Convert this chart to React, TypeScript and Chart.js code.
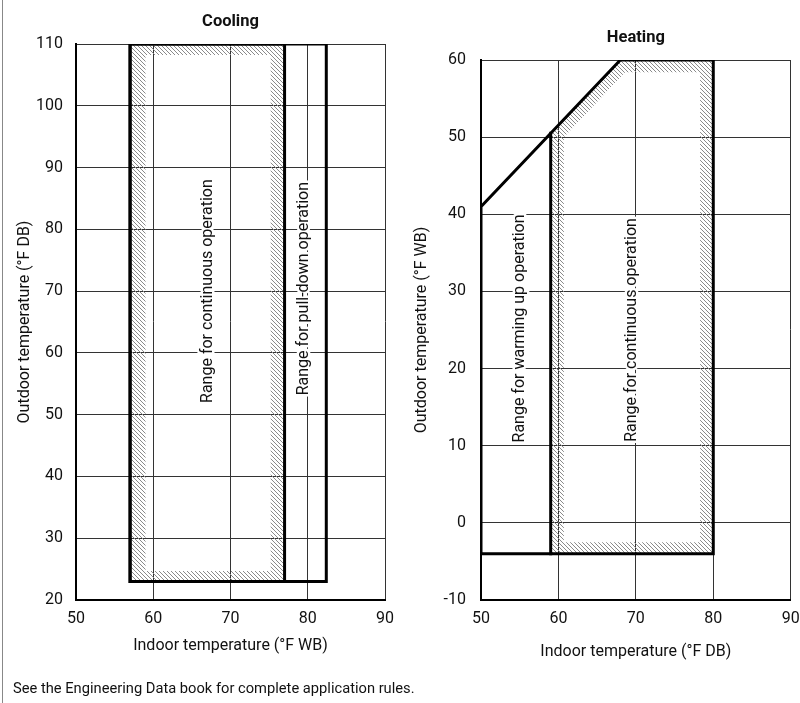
import React, { useEffect, useRef } from 'react';
import { Chart, registerables } from 'chart.js';

Chart.register(...registerables);

const FONT = "Roboto, 'Liberation Sans', sans-serif";

// ---------- Data ----------
const xTicks = [50, 60, 70, 80, 90];
const coolingYTicks = [20, 30, 40, 50, 60, 70, 80, 90, 100, 110];
const heatingYTicks = [-10, 0, 10, 20, 30, 40, 50, 60];

// Cooling (indoor °F WB vs outdoor °F DB)
const coolingContinuousX = [57, 57, 77, 77, 57];
const coolingContinuousY = [23, 110, 110, 23, 23];
const coolingPullDownX = [57, 57, 82.4, 82.4, 57];
const coolingPullDownY = [23, 110, 110, 23, 23];
const coolingHatchX = [57, 57, 77, 77, 57, 59, 75.2, 75.2, 59, 59, 57];
const coolingHatchY = [23, 110, 110, 23, 23, 24.7, 24.7, 108.2, 108.2, 24.7, 23];
const coolingLabels = ['Range for continuous operation', 'Range for pull-down operation'];
const coolingLabelX = [67.1, 79.5];
const coolingLabelY = [70, 70.4];

// Heating (indoor °F DB vs outdoor °F WB)
const heatingBoundaryX = [50, 68, 80, 80, 50, 50];
const heatingBoundaryY = [41, 60, 60, -4, -4, 41];
const heatingWarmupX = [59, 59];
const heatingWarmupY = [-4, 50.5];
const heatingHatchX = [59, 59, 68, 80, 80, 59, 60.7, 78.3, 78.3, 68.6, 60.7, 60.7, 59];
const heatingHatchY = [-4, 50.5, 60, 60, -4, -4, -2.5, -2.5, 58.4, 58.4, 50.0, -2.5, -4];
const heatingLabels = ['Range for warming up operation', 'Range for continuous operation'];
const heatingLabelX = [55.0, 69.5];
const heatingLabelY = [25.2, 25];

const footerText = 'See the Engineering Data book for complete application rules.';

// ---------- Helpers ----------
const pts = (xs: number[], ys: number[]) => xs.map((x, i) => ({ x, y: ys[i] }));

function makeHatch(): any {
  const c = document.createElement('canvas');
  c.width = 4;
  c.height = 4;
  const g = c.getContext('2d')!;
  g.fillStyle = '#8a8a8a';
  for (let i = 0; i < 4; i++) g.fillRect(i, i, 1, 1);
  return g.createPattern(c, 'repeat');
}

interface PanelProps {
  left: number;
  title: string;
  xTitle: string;
  yTitle: string;
  yTicks: number[];
  outlines: { x: number[]; y: number[] }[];
  hatches: { x: number[]; y: number[] }[];
  labels: string[];
  labelX: number[];
  labelY: number[];
  yAxisWidth: number;
  padRight: number;
  titlePadTop: number;
  yTitlePad: number;
  yTickPad: number;
  xTitlePadBottom: number;
}

function Panel(p: PanelProps) {
  const ref = useRef<HTMLCanvasElement>(null);
  useEffect(() => {
    const canvas = ref.current!;
    const hatch = makeHatch();
    const labelPlugin = {
      id: 'rangeLabels',
      afterDatasetsDraw(chart: any) {
        const { ctx } = chart;
        const xs = chart.scales.x;
        const ys = chart.scales.y;
        p.labels.forEach((t, i) => {
          const px = xs.getPixelForValue(p.labelX[i]);
          const py = ys.getPixelForValue(p.labelY[i]);
          ctx.save();
          ctx.translate(px, py);
          ctx.rotate(-Math.PI / 2);
          ctx.font = `16px ${FONT}`;
          ctx.textAlign = 'center';
          ctx.textBaseline = 'middle';
          ctx.lineJoin = 'round';
          ctx.strokeStyle = '#ffffff';
          ctx.lineWidth = 5;
          ctx.strokeText(t, 0, 0);
          ctx.fillStyle = '#111';
          ctx.fillText(t, 0, 0);
          ctx.restore();
        });
      },
    };
    const datasets: any[] = [];
    p.outlines.forEach((o) => {
      datasets.push({
        data: pts(o.x, o.y),
        showLine: true,
        borderColor: '#000',
        borderWidth: 3,
        borderJoinStyle: 'miter',
        borderCapStyle: 'square',
        pointRadius: 0,
        fill: false,
        tension: 0,
      });
    });
    p.hatches.forEach((h) => {
      datasets.push({
        data: pts(h.x, h.y),
        showLine: true,
        borderColor: 'rgba(0,0,0,0)',
        borderWidth: 0,
        backgroundColor: hatch,
        pointRadius: 0,
        fill: 'shape',
        tension: 0,
      });
    });
    const tickFont = { family: FONT, size: 16 };
    const chart = new Chart(canvas, {
      type: 'scatter',
      data: { datasets },
      plugins: [labelPlugin],
      options: {
        animation: false,
        responsive: false,
        events: [],
        layout: { padding: { left: 0, right: p.padRight, top: 0, bottom: 0 } },
        plugins: {
          legend: { display: false },
          tooltip: { enabled: false },
          title: {
            display: true,
            text: p.title,
            fullSize: false,
            color: '#111',
            font: { family: FONT, size: 16.5, weight: 'bold' },
            padding: { top: p.titlePadTop, bottom: 44 - 19.8 - 12.4 },
          },
        },
        scales: {
          x: {
            type: 'linear',
            position: 'bottom',
            min: 50,
            max: 90,
            afterBuildTicks: (s: any) => {
              s.ticks = xTicks.map((v) => ({ value: v }));
            },
            afterFit: (s: any) => {
              s.height = 103;
              s.paddingLeft = 0;
              s.paddingRight = 0;
              s.paddingTop = 0;
              s.paddingBottom = 0;
            },
            grid: { color: '#333', lineWidth: 1, drawTicks: false },
            border: { display: true, color: '#000', width: 2 },
            ticks: { color: '#111', font: tickFont, padding: 9, maxRotation: 0, autoSkip: false },
            title: {
              display: true,
              text: p.xTitle,
              color: '#111',
              font: tickFont,
              padding: { top: 0, bottom: p.xTitlePadBottom },
            },
          },
          y: {
            type: 'linear',
            position: 'left',
            min: p.yTicks[0],
            max: p.yTicks[p.yTicks.length - 1],
            afterBuildTicks: (s: any) => {
              s.ticks = p.yTicks.map((v) => ({ value: v }));
            },
            afterFit: (s: any) => {
              s.width = p.yAxisWidth;
              s.paddingLeft = 0;
              s.paddingRight = 0;
              s.paddingTop = 0;
              s.paddingBottom = 0;
            },
            grid: { color: '#333', lineWidth: 1, drawTicks: false },
            border: { display: true, color: '#000', width: 2 },
            ticks: { color: '#111', font: tickFont, padding: p.yTickPad, autoSkip: false },
            title: {
              display: true,
              text: p.yTitle,
              color: '#111',
              font: tickFont,
              padding: { top: p.yTitlePad, bottom: 0 },
            },
          },
        },
      } as any,
    });
    return () => chart.destroy();
  }, []);
  return (
    <canvas
      ref={ref}
      width={400}
      height={703}
      style={{ position: 'absolute', left: p.left, top: 0, width: 400, height: 703 }}
    />
  );
}

export default function App() {
  return (
    <div
      style={{
        position: 'absolute',
        left: 0,
        top: 0,
        width: 800,
        height: 703,
        background: '#fff',
        overflow: 'hidden',
      }}
    >
      <Panel
        left={0}
        title="Cooling"
        xTitle="Indoor temperature (°F WB)"
        yTitle="Outdoor temperature (°F DB)"
        yTicks={coolingYTicks}
        outlines={[
          { x: coolingContinuousX, y: coolingContinuousY },
          { x: coolingPullDownX, y: coolingPullDownY },
        ]}
        hatches={[{ x: coolingHatchX, y: coolingHatchY }]}
        labels={coolingLabels}
        labelX={coolingLabelX}
        labelY={coolingLabelY}
        yAxisWidth={76}
        padRight={15}
        titlePadTop={12.4}
        yTitlePad={15}
        yTickPad={13}
        xTitlePadBottom={47}
      />
      <Panel
        left={400}
        title="Heating"
        xTitle="Indoor temperature (°F DB)"
        yTitle="Outdoor temperature (°F WB)"
        yTicks={heatingYTicks}
        outlines={[
          { x: heatingBoundaryX, y: heatingBoundaryY },
          { x: heatingWarmupX, y: heatingWarmupY },
        ]}
        hatches={[{ x: heatingHatchX, y: heatingHatchY }]}
        labels={heatingLabels}
        labelX={heatingLabelX}
        labelY={heatingLabelY}
        yAxisWidth={81}
        padRight={9.3}
        titlePadTop={28.4}
        yTitlePad={12}
        yTickPad={15}
        xTitlePadBottom={41}
      />
      <div style={{ position: 'absolute', left: 2, top: 0, width: 1, height: 703, background: '#888' }} />
      <div
        style={{
          position: 'absolute',
          left: 13,
          top: 679,
          fontFamily: FONT,
          fontSize: 14.7,
          lineHeight: '19px',
          color: '#111',
          whiteSpace: 'nowrap',
        }}
      >
        {footerText}
      </div>
    </div>
  );
}
